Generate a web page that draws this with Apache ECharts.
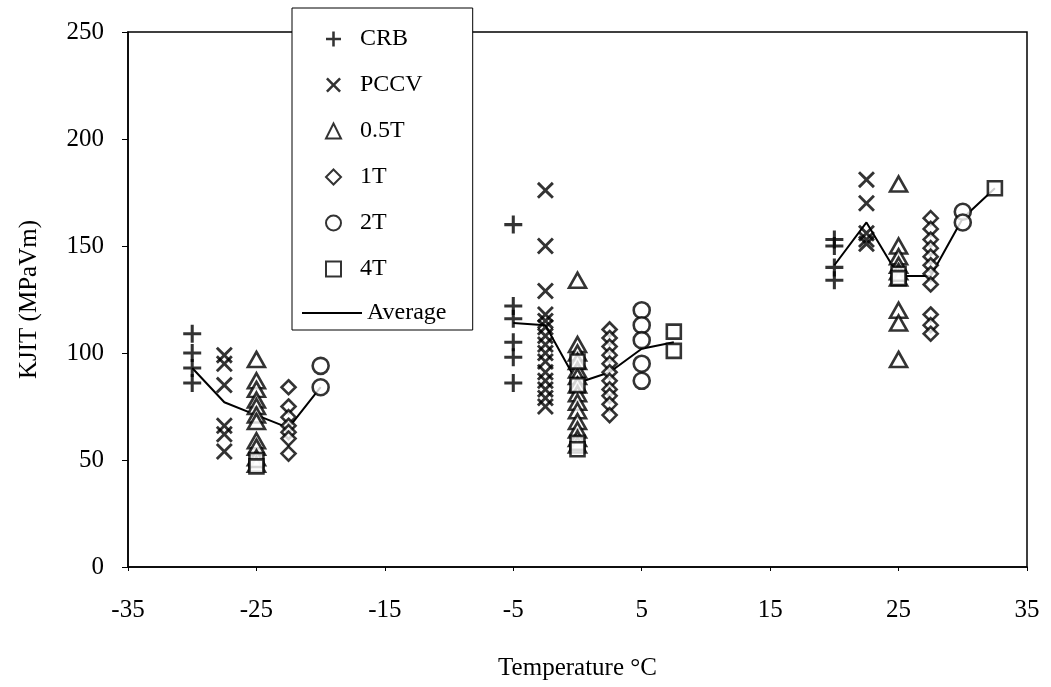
<!DOCTYPE html>
<html lang="en">
<head>
    <meta charset="UTF-8">
    <title></title>
    <style>
        * {
            margin: 0;
            padding: 0;
            box-sizing: border-box;
        }

        html, body {
            width: 1051px;
            height: 687px;
            background: #ffffff;
            overflow: hidden;
        }

        #chart {
            width: 1051px;
            height: 687px;
        }
    </style>
    <script type="text/javascript" src="https://cdn.jsdelivr.net/npm/echarts@6/dist/echarts.min.js"></script>
</head>
<body>
<div id="chart"></div>
<script type="text/javascript">
    // temperatures (deg C) per specimen type and the KJIT values read at each one
    var crbT = [-30, -5, 20]
    var crbK = [[109, 100, 93, 86], [160, 122, 116, 105, 98, 86], [153, 150, 140, 134]]

    var pccvT = [-27.5, -2.5, 22.5]
    var pccvK = [[99, 95, 85, 66, 62, 54],
        [176, 150, 129, 118, 115, 112, 108, 104, 100, 96, 91, 87, 83, 79, 75],
        [181, 170, 156, 153, 151]]

    var halfT = [-25, 0, 25]
    var halfK = [[97, 87, 83, 78, 75, 71, 68, 59, 56, 51, 48],
        [134, 104, 100, 96, 92, 89, 85, 81, 77, 73, 68, 64, 60, 57],
        [179, 150, 145, 141, 138, 135, 120, 114, 97]]

    var oneT = [-22.5, 2.5, 27.5]
    var oneK = [[84, 75, 70, 66, 63, 60, 53],
        [111, 107, 103, 99, 95, 91, 87, 83, 80, 76, 71],
        [163, 158, 153, 149, 145, 141, 137, 132, 118, 113, 109]]

    var twoT = [-20, 5, 30]
    var twoK = [[94, 84], [120, 113, 106, 95, 87], [166, 161]]

    var fourT = [-25, 0, 7.5, 25, 32.5]
    var fourK = [[50, 47], [96, 85, 58, 55], [110, 101], [137, 135], [177]]

    // average line, one run per test temperature group
    var avgT = [[-30, -27.5, -25, -22.5, -20], [-5, -2.5, 0, 2.5, 5, 7.5], [20, 22.5, 25, 27.5, 30, 32.5]]
    var avgK = [[93, 77, 71, 65, 84], [114, 113, 86, 91, 102, 105], [141, 161, 136, 136, 163, 177]]

    var xTicks = [-35, -25, -15, -5, 5, 15, 25, 35]
    var yTicks = [0, 50, 100, 150, 200, 250]

    function pairs(temps, vals) {
        var out = []
        temps.forEach(function (t, i) {
            vals[i].forEach(function (v) {
                out.push([t, v])
            })
        })
        return out
    }

    var font = '"Liberation Serif", "Times New Roman", serif'
    var plusPath = 'path://M-1.7,-10H1.7V-1.7H10V1.7H1.7V10H-1.7V1.7H-10V-1.7H-1.7Z'
    var crossPath = 'path://M-10,-7.6L-7.6,-10L0,-2.4L7.6,-10L10,-7.6L2.4,0L10,7.6L7.6,10L0,2.4L-7.6,10L-10,7.6L-2.4,0Z'
    var hollow = {color: '#ffffff', borderColor: '#000000', borderWidth: 2.6}

    var series = [
        {name: 'CRB', type: 'scatter', symbol: plusPath, symbolSize: 18,
            itemStyle: {color: '#000000'}, data: pairs(crbT, crbK)},
        {name: 'PCCV', type: 'scatter', symbol: crossPath, symbolSize: 17,
            itemStyle: {color: '#000000'}, data: pairs(pccvT, pccvK)},
        {name: '0.5T', type: 'scatter', symbol: 'triangle', symbolSize: [17, 15],
            itemStyle: hollow, data: pairs(halfT, halfK)},
        {name: '1T', type: 'scatter', symbol: 'diamond', symbolSize: 14,
            itemStyle: hollow, data: pairs(oneT, oneK)},
        {name: '2T', type: 'scatter', symbol: 'circle', symbolSize: 16,
            itemStyle: hollow, data: pairs(twoT, twoK)},
        {name: '4T', type: 'scatter', symbol: 'rect', symbolSize: 14,
            itemStyle: hollow, data: pairs(fourT, fourK)}
    ]
    avgT.forEach(function (temps, i) {
        series.push({
            name: 'Average', type: 'line', symbol: 'none', z: 1,
            lineStyle: {color: '#000000', width: 2},
            itemStyle: {color: '#000000'},
            data: temps.map(function (t, j) {
                return [t, avgK[i][j]]
            })
        })
    })

    var legendText = {fontFamily: font, fontSize: 24, lineHeight: 26, color: '#000000'}

    var myChart = echarts.init(document.getElementById('chart'))
    var option = {
        animation: false,
        backgroundColor: '#ffffff',
        textStyle: {fontFamily: font, color: '#000000'},
        grid: {
            left: 128, right: 24, top: 32, bottom: 120,
            show: true, borderColor: '#000000', borderWidth: 1.5
        },
        legend: [
            {
                data: ['CRB', 'PCCV', '0.5T', '1T', '2T', '4T'],
                orient: 'vertical',
                left: 292, top: 8,
                padding: [18, 50, 48, 33],
                itemWidth: 15, itemHeight: 15, itemGap: 20,
                backgroundColor: '#ffffff',
                borderColor: '#000000', borderWidth: 1,
                textStyle: Object.assign({padding: [0, 0, 0, 14]}, legendText)
            },
            {
                data: [{name: 'Average', icon: 'rect'}],
                left: 302, top: 300,
                padding: 0,
                itemWidth: 60, itemHeight: 2,
                textStyle: legendText
            }
        ],
        xAxis: {
            type: 'value',
            min: xTicks[0], max: xTicks[xTicks.length - 1], interval: 10,
            name: 'Temperature \u00b0C',
            nameLocation: 'middle', nameGap: 89,
            nameTextStyle: {fontFamily: font, fontSize: 25, color: '#000000'},
            axisLine: {lineStyle: {color: '#000000', width: 1.5}},
            axisTick: {show: true, length: 4, lineStyle: {color: '#000000'}},
            axisLabel: {fontFamily: font, fontSize: 25, color: '#000000', margin: 31},
            splitLine: {show: false}
        },
        yAxis: {
            type: 'value',
            min: yTicks[0], max: yTicks[yTicks.length - 1], interval: 50,
            name: 'KJIT (MPaVm)',
            nameLocation: 'middle', nameGap: 86,
            nameTextStyle: {fontFamily: font, fontSize: 25, color: '#000000'},
            axisLine: {show: true, onZero: false, lineStyle: {color: '#000000', width: 1.5}},
            axisTick: {show: true, length: 6, lineStyle: {color: '#000000'}},
            axisLabel: {fontFamily: font, fontSize: 25, color: '#000000', margin: 24},
            splitLine: {show: false}
        },
        series: series
    }
    myChart.setOption(option)
</script>
</body>
</html>
